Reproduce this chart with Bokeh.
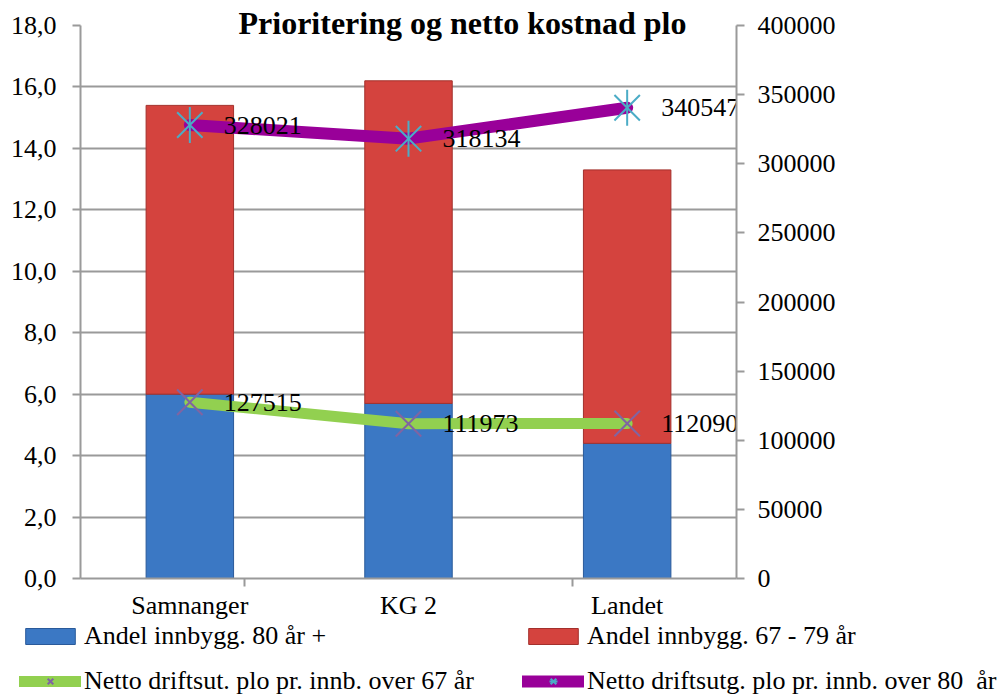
import math
from bokeh.plotting import figure
from bokeh.layouts import column
from bokeh.models import (FactorRange, Range1d, LinearAxis, CategoricalAxis, FixedTicker,
                          ColumnDataSource, Legend, LegendItem, Title, CustomJSTickFormatter)
from bokeh.core.properties import value
from bokeh.embed import file_html
from bokeh.resources import INLINE

# ---- data ----
categories = ["Samnanger", "KG 2", "Landet"]
share_80_plus = [6.0, 5.7, 4.4]          # Andel innbygg. 80 år +
share_67_79 = [9.4, 10.5, 8.9]           # Andel innbygg. 67 - 79 år
cost_over_67 = [127515, 111973, 112090]  # Netto driftsut. plo pr. innb. over 67 år
cost_over_80 = [328021, 318134, 340547]  # Netto driftsutg. plo pr. innb. over 80 år
left_ticks = [0, 2, 4, 6, 8, 10, 12, 14, 16, 18]
left_tick_labels = ["0,0", "2,0", "4,0", "6,0", "8,0", "10,0", "12,0", "14,0", "16,0", "18,0"]
right_ticks = [0, 50000, 100000, 150000, 200000, 250000, 300000, 350000, 400000]
right_tick_labels = ["0", "50000", "100000", "150000", "200000", "250000", "300000", "350000", "400000"]
series_names = ["Andel innbygg. 80 år +", "Andel innbygg. 67 - 79 år",
                "Netto driftsut. plo pr. innb. over 67 år", "Netto driftsutg. plo pr. innb. over 80  år"]
title_text = "Prioritering og netto kostnad plo"

FONT = "Liberation Serif"
GRID = "#9a9a9a"
BLUE, BLUE_EDGE = "#3B78C4", "#2A5A9A"
RED, RED_EDGE = "#D4433E", "#A3302C"
GREEN, PURPLE = "#92D050", "#990099"
XCOL, STARCOL = "#8064A2", "#4BACC6"
LABEL_JS = "const i = tick_values.indexOf(tick); return i >= 0 ? tick_texts[i] : '';"

p = figure(x_range=FactorRange(*categories), y_range=Range1d(0, 18),
           width=1008, height=622, output_backend="svg", toolbar_location=None,
           x_axis_location=None, y_axis_location="left",
           min_border_left=80, min_border_right=272, min_border_top=25, min_border_bottom=44)
p.frame_align = False
p.outline_line_color = None
p.background_fill_color = "white"
p.border_fill_color = "white"
p.xgrid.visible = False

p.extra_y_ranges = {"right": Range1d(0, 400000)}
# category boundaries: one factor per boundary, padded so their centres land on the edges
boundary_factors = ["b%d" % i for i in range(len(categories) + 1)]
p.extra_x_ranges = {"bounds": FactorRange(*boundary_factors, range_padding=-1,
                                          range_padding_units="absolute")}

# left axis
ya = p.yaxis[0]
ya.ticker = FixedTicker(ticks=left_ticks)
ya.formatter = CustomJSTickFormatter(args=dict(tick_values=left_ticks, tick_texts=left_tick_labels),
                                     code=LABEL_JS)
ya.axis_line_color = GRID
ya.axis_line_width = 2
ya.major_tick_line_color = GRID
ya.major_tick_line_width = 2
ya.major_tick_in = 0
ya.major_tick_out = 8
ya.minor_tick_line_color = None
ya.major_label_standoff = 16
ya.major_label_text_font = FONT
ya.major_label_text_font_size = "26px"
ya.major_label_text_color = "black"
p.ygrid.ticker = FixedTicker(ticks=left_ticks)
p.ygrid.grid_line_color = GRID
p.ygrid.grid_line_width = 2

# right axis
ra = LinearAxis(y_range_name="right", ticker=FixedTicker(ticks=right_ticks),
                formatter=CustomJSTickFormatter(args=dict(tick_values=right_ticks,
                                                          tick_texts=right_tick_labels),
                                                code=LABEL_JS))
ra.axis_line_color = GRID
ra.axis_line_width = 2
ra.major_tick_line_color = GRID
ra.major_tick_line_width = 2
ra.major_tick_in = 0
ra.major_tick_out = 8
ra.minor_tick_line_color = None
ra.major_label_standoff = 13
ra.major_label_text_font = FONT
ra.major_label_text_font_size = "26px"
ra.major_label_text_color = "black"
p.add_layout(ra, "right")

# bottom: boundary ticks axis, then category labels
ba = CategoricalAxis(x_range_name="bounds")
ba.axis_line_color = GRID
ba.axis_line_width = 2
ba.major_tick_line_color = GRID
ba.major_tick_line_width = 2
ba.major_tick_in = 0
ba.major_tick_out = 8
ba.major_label_overrides = {f: "" for f in boundary_factors}
ba.major_label_text_alpha = 0
ba.major_label_text_font_size = "1px"
ba.major_label_standoff = 0
p.add_layout(ba, "below")

ca = CategoricalAxis()
ca.axis_line_color = None
ca.major_tick_line_color = None
ca.major_tick_out = 0
ca.major_tick_in = 0
ca.major_label_standoff = 4
ca.major_label_text_font = FONT
ca.major_label_text_font_size = "26px"
ca.major_label_text_color = "black"
p.add_layout(ca, "below")


def draw_series(fig):
    src = ColumnDataSource(dict(cat=categories, a80=share_80_plus, a67=share_67_79))
    bars = fig.vbar_stack(["a80", "a67"], x="cat", width=0.4, source=src,
                          fill_color=[BLUE, RED], line_color=[BLUE_EDGE, RED_EDGE], line_width=1)
    l67 = fig.line(x=categories, y=cost_over_67, y_range_name="right", line_color=GREEN,
                   line_width=11, line_cap="round", line_join="round")
    m67 = fig.scatter(x=categories, y=cost_over_67, y_range_name="right", marker="x", size=36,
                      line_color=XCOL, line_width=2)
    l80 = fig.line(x=categories, y=cost_over_80, y_range_name="right", line_color=PURPLE,
                   line_width=12, line_cap="round", line_join="round")
    m80a = fig.scatter(x=categories, y=cost_over_80, y_range_name="right", marker="x", size=36,
                       line_color=STARCOL, line_width=2)
    m80b = fig.scatter(x=categories, y=cost_over_80, y_range_name="right", marker="dash", size=36,
                       angle=math.pi / 2, line_color=STARCOL, line_width=2)
    return [[bars[0]], [bars[1]], [l67, m67], [l80, m80a, m80b]]


draw_series(p)

# data labels
for vals in (cost_over_67, cost_over_80):
    p.text(x=categories, y=vals, text=[str(v) for v in vals], y_range_name="right",
           x_offset=34, text_baseline="middle", text_align="left",
           text_font=value(FONT), text_font_size="26px", text_color="black")

# title (pulled down into the plot area like the original)
p.add_layout(Title(text=title_text, align="left", offset=158, standoff=-30,
                   text_font=FONT, text_font_size="32px", text_font_style="bold",
                   text_color="black"), "above")

# ---- legend strip below the chart (same series, kept out of view below; only the legend shows) ----
lp = figure(x_range=FactorRange(*categories), y_range=Range1d(1000, 1001),
            width=1008, height=74, output_backend="svg", toolbar_location=None,
            x_axis_location=None, y_axis_location=None,
            min_border_left=0, min_border_right=0, min_border_top=0, min_border_bottom=0)
lp.frame_align = False
lp.extra_y_ranges = {"right": Range1d(1e8, 1e8 + 1)}
lp.outline_line_color = None
lp.grid.visible = False
lp.background_fill_color = "white"
lp.border_fill_color = "white"
groups = draw_series(lp)

legend = Legend(items=[LegendItem(label=name, renderers=rs) for name, rs in zip(series_names, groups)],
                location=(19, 0), orientation="horizontal", ncols=2,
                glyph_width=62, glyph_height=20, label_standoff=3, spacing=15, padding=0, margin=0,
                border_line_color=None, background_fill_alpha=0,
                label_text_font=FONT, label_text_font_size="26px", label_text_color="black",
                label_width=423, label_height=20)
lp.add_layout(legend, "center")

open("out.html", "w").write(file_html(column(p, lp, spacing=0), INLINE))
